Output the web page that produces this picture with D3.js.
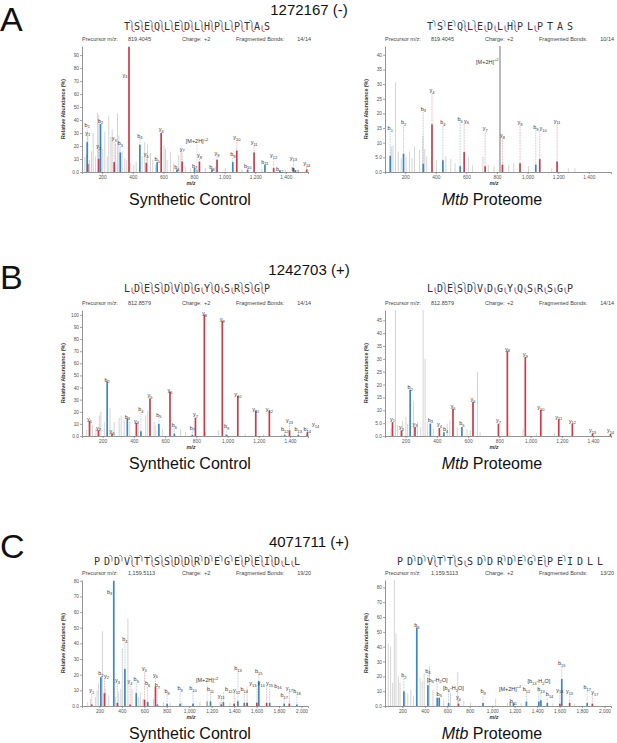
<!DOCTYPE html>
<html>
<head>
<meta charset="utf-8">
<script src="https://cdn.jsdelivr.net/npm/d3@7"></script>
<style>
  body { margin: 0; background: #fff; }
  svg { font-family: "Liberation Sans", Arial, sans-serif; }
</style>
</head>
<body>
<svg id="fig" width="617" height="743"></svg>
<script>
"use strict";

// ---- data ----
const titles = ["1272167 (-)", "1242703 (+)", "4071711 (+)"];
const rowLetters = ["A", "B", "C"];
const sequences = ["TSEQLEDLHPLPTAS", "LDESDVDGYQSRSGP", "PDDVTTSSDDRDEGEPEIDLL"];
const precursors = ["819.4045", "812.8579", "1,159.5113"];
const charges = ["+2", "+2", "+2"];
const fragBonds = ["14/14", "10/14", "14/14", "14/14", "19/20", "13/20"];

const xTicksAB = [200, 400, 600, 800, 1000, 1200, 1400];
const xTicksC = [200, 400, 600, 800, 1000, 1200, 1400, 1600, 1800, 2000];
const yTicksA1 = [0, 10, 20, 30, 40, 50, 60, 70, 80, 90];
const yTicksA2 = [0, 5, 10, 15, 20, 25, 30, 35, 40];
const yTicksB1 = [0, 10, 20, 30, 40, 50, 60, 70, 80, 90, 100];
const yTicksB2 = [0, 5, 10, 15, 20, 25, 30, 35, 40, 45];
const yTicksC = [0, 10, 20, 30, 40, 50, 60, 70, 80];

// fragment coverage per bond (1 = observed)
const bMarksA1 = [1,1,1,1,1,1,1,1,1,1,1,1,1,0];
const yMarksA1 = [1,1,1,1,1,1,1,1,1,1,1,1,1,1];
const bMarksA2 = [1,1,1,1,1,0,0,0,1,0,0,0,0,0];
const yMarksA2 = [0,0,0,1,1,1,1,1,1,0,1,0,0,0];
const bMarksB1 = [0,1,1,1,1,1,1,0,1,0,0,1,1,1];
const yMarksB1 = [1,1,1,1,1,1,1,1,1,1,1,1,1,1];
const bMarksB2 = [0,1,1,1,1,0,0,0,0,0,0,0,0,0];
const yMarksB2 = [1,1,1,1,1,1,1,1,1,1,1,1,1,1];
const bMarksC1 = [0,1,1,1,1,1,1,1,1,1,1,1,1,1,1,1,1,1,0,0];
const yMarksC1 = [0,0,0,1,0,1,1,1,1,1,0,0,0,0,1,1,1,1,1,1];
const bMarksC2 = [0,1,1,1,1,1,0,0,1,0,1,1,1,1,1,0,1,0,0,0];
const yMarksC2 = [0,0,0,1,0,1,1,0,0,0,0,0,0,0,1,0,0,0,0,0];

// annotated peaks: [m/z, relative abundance, label, label level]
const peaksA1 = [
  [102.06, 23, "b_1", 36.5], [106.05, 6, "y_1", 30.4], [177.09, 10, "y_2", 20],
  [189.09, 37, "b_2", 39.5], [278.14, 7.6, "y_3", 26], [318.13, 15, "b_3", 22.5],
  [375.19, 96.4, "y_4", 75], [446.19, 21, "b_4", 28], [488.27, 7, "y_5", 14],
  [559.27, 7.6, "b_5", 10], [585.32, 30, "y_6", 33], [688.32, 2, "b_6", 3.5],
  [722.38, 8, "y_7", 18], [803.34, 3, "b_7", 5], [819.40, 2, "[M+2H]^+2", 24],
  [835.47, 8, "y_8", 13], [916.43, 2, "b_8", 4], [950.50, 9.4, "y_9", 14.5],
  [1053.49, 7.6, "b_9", 14], [1079.54, 16.5, "y_10", 27], [1150.54, 2, "b_10", 5],
  [1192.62, 15, "y_11", 23], [1263.62, 5.5, "b_11", 8], [1320.68, 3, "y_12", 13],
  [1360.67, 1, "b_12", 2.5], [1449.72, 3, "y_13", 11], [1461.72, 1, "b_13", 2.5],
  [1536.76, 2, "y_14", 7]
];
const peaksA2 = [
  [102.06, 5.5, "b_1", 15], [189.09, 6.2, "b_2", 17], [318.13, 2.8, "b_3", 21.6],
  [375.19, 16.3, "y_4", 28], [446.19, 4, "b_4", 17], [559.27, 2, "b_5", 18],
  [585.32, 6.8, "y_6", 17.5], [722.38, 2, "y_7", 15], [819.40, 43, "[M+2H]^+2", 37.7],
  [835.47, 2.5, "y_8", 12.6], [950.50, 3, "y_9", 17], [1053.49, 2.5, "b_9", 15.4],
  [1079.54, 4.4, "y_10", 15], [1192.62, 3.6, "y_11", 17.5]
];
const peaksB1 = [
  [116.07, 12.4, "y_1", 14], [173.09, 4.7, "y_2", 7], [229.12, 45, "b_2", 46.5],
  [260.12, 2, "y_3", 4], [358.16, 14.4, "b_3", 16], [416.22, 10.8, "y_4", 12.6],
  [445.19, 4, "b_4", 22], [503.26, 31, "y_5", 33.5], [560.22, 10, "b_5", 17.7],
  [631.31, 36.5, "y_6", 37.8], [659.29, 2, "b_6", 9], [774.32, 1, "b_7", 7],
  [794.38, 15, "y_7", 18], [851.40, 100, "y_8", 101.5], [966.43, 95, "y_9", 96.5],
  [994.40, 1, "b_9", 8], [1065.50, 33, "y_10", 34.5], [1180.52, 21, "y_11", 22.5],
  [1267.56, 21, "y_12", 22.5], [1365.59, 1, "b_12", 5.5], [1396.60, 4.7, "y_13", 13],
  [1452.62, 1, "b_13", 5.5], [1509.64, 1, "b_14", 5.5], [1511.63, 3, "y_14", 9.7]
];
const peaksB2 = [
  [116.07, 5.4, "y_1", 6.8], [173.09, 2.2, "y_2", 3.6], [229.12, 18, "b_2", 19],
  [260.12, 3.5, "y_3", 4.8], [358.16, 4.8, "b_3", 6.4], [416.22, 3.1, "y_4", 4.5],
  [445.19, 1.5, "b_4", 2.6], [503.26, 10.6, "y_5", 11.6], [560.22, 3.5, "b_5", 4.9],
  [631.31, 13.2, "y_6", 14.2], [794.38, 4.8, "y_7", 6.2], [851.40, 33, "y_8", 34],
  [966.43, 30.7, "y_9", 31.7], [1065.50, 10.2, "y_10", 11.2], [1180.52, 6.5, "y_11", 7.5],
  [1267.56, 4.8, "y_12", 6], [1396.60, 1, "y_13", 2.4], [1511.63, 0.8, "y_14", 2.2]
];
const peaksC1 = [
  [132.10, 1, "y_1", 10.3], [213.09, 18.3, "b_2", 21], [245.19, 8.2, "y_2", 19.4],
  [328.11, 80, "b_3", 73], [360.21, 2, "y_3", 16.6], [427.18, 23.6, "b_4", 42.5],
  [473.30, 1, "y_4", 16], [528.23, 8.2, "b_5", 17.3], [602.34, 4, "y_5", 24],
  [629.28, 2.5, "b_6", 14.7], [699.39, 12.2, "y_6", 20], [716.31, 1, "b_7", 13.5],
  [803.34, 1.5, "b_8", 9.5], [918.37, 1.5, "b_9", 11.4], [1033.40, 1.5, "b_10", 11.4],
  [1159.51, 3, "[M+2H]^+2", 16.6], [1189.50, 3, "b_11", 11], [1285.63, 1, "y_11", 6.7],
  [1304.53, 2.5, "b_12", 11], [1400.66, 1.5, "y_12", 10.3], [1433.57, 3, "b_13", 24],
  [1490.59, 2, "b_14", 11], [1515.69, 2, "y_13", 14.5], [1602.72, 2, "y_14", 14.5],
  [1619.63, 16, "b_15", 22.5], [1689.75, 2, "y_15", 14.7], [1716.69, 2, "b_16", 13],
  [1845.73, 1.5, "b_17", 7], [1891.85, 1.5, "y_17", 11.6], [1958.81, 1, "b_18", 9.3]
];
const peaksC2 = [
  [213.09, 10, "b_2", 21], [328.11, 53, "b_3", 54.5], [427.18, 14, "b_4", 23.8],
  [510.22, 5.5, "[b_5-H_2O]", 17.8], [528.23, 5.5, "b_5", 8.4], [611.27, 2, "[b_6-H_2O]", 12.2],
  [699.39, 1.5, "y_6", 6.2], [918.37, 2, "b_9", 10], [1159.51, 3, "[M+2H]^+2", 11.6],
  [1189.50, 2, "b_11", 3.5], [1304.53, 3, "b_12", 11.6], [1415.56, 3, "[b_13-H_2O]", 17],
  [1433.57, 3.8, "b_13", 11.6], [1490.59, 2, "b_14", 7.8], [1602.72, 1.5, "y_14", 11],
  [1619.63, 18.2, "b_15", 29], [1689.75, 2, "y_15", 10], [1845.73, 2, "b_17", 12.7],
  [1891.85, 1.5, "y_17", 9.6]
];

// unannotated peaks: [m/z, relative abundance]
const noiseA1 = [[87,12],[97,14],[117,9],[130,16],[141,30],[157,12],[170,45.6],[178,44],[204,18],[217,31],[233,12],[243,43.6],[257,27],[265,33],[287,22],[300,45],[309,28],[330,16],[348,10.6],[361,9],[387,7],[406,5.6],[422,8],[461,12],[478,23],[496,21],[515,14.5],[530,9.4],[548,5.6],[604,20.8],[613,18],[624,9.4],[646,15.7],[667,6.8],[700,13],[715,17],[743,4.3],[776,3],[874,3],[939,4.3],[1004,3],[1113,2.3],[1243,2.3],[1396,1.8]];
const noiseA2 = [[109,8.7],[120,9],[137,30.6],[155,7],[174,4.7],[206,5.3],[228,7],[245,4.7],[261,8.7],[293,7.5],[315,12.3],[328,7.9],[341,5.3],[405,4.2],[466,5.3],[498,4.4],[526,3],[613,5],[639,2.5],[708,5.3],[743,2.5],[780,2],[877,2.5],[909,3],[1006,2],[1158,1.3],[1266,1.3],[1309,1.3]];
const noiseB1 = [[98,4.7],[136,8.8],[157,6],[179,17],[189,20],[211,11.6],[247,23],[274,11.6],[306,15],[319,17],[338,13],[374,11.6],[429,10],[476,17],[489,21],[529,11.6],[540,8.8],[582,6],[699,5.5],[731,3.3],[859,3.3],[943,4.7],[986,2],[1113,2],[1230,1.4],[1347,1.1]];
const noiseB2 = [[107,2.9],[135,49],[149,4.2],[181,6],[202,7.4],[213,4.8],[251,13.5],[276,5.4],[297,3.5],[312,49],[325,30],[339,5.4],[377,2.9],[466,4.8],[483,6],[530,3.5],[593,2.6],[614,2.2],[660,25],[677,1.6],[868,1.6],[952,2.9],[1037,1.3],[1153,1.3],[1269,0.9]];
const noiseC1 = [[96,2.5],[120,4.6],[164,5.7],[179,9.9],[191,14.5],[227,47.8],[253,11],[283,6.7],[342,5.7],[372,8.8],[392,11],[404,36.8],[454,56],[490,11],[549,5.7],[564,8.8],[588,4.6],[638,2.5],[682,4.6],[771,2.5],[830,2.1],[934,2.5],[1037,1.9],[1096,2.5],[1274,2.5],[1363,2.1],[1511,1.5],[1689,1.5]];
const noiseC2 = [[74,42],[95,40],[113,15.6],[128,85],[143,49],[164,20],[179,15.6],[224,8.9],[248,8.4],[275,11],[299,6.7],[358,19],[376,16.7],[394,22],[442,26.7],[472,11],[568,4.4],[628,8.9],[693,23],[747,3.3],[807,2.2],[1031,4.9],[1136,2.2],[1256,1.8],[1540,1.8],[1734,1.6]];

// ---- layout ----
const svg = d3.select("#fig");
const plotW = 226, plotH = 126;
const blue = "#3a87c4", red = "#cc3b47", grey = "#d4d4d4", precGrey = "#a2a2a2";
const colLeft = [82, 385];
const subX = [190, 492];
const rows = [
  { title: 15, letter: 31, seq: 26, head: 41, top: 46, xDomain: [68, 1545], xTicks: xTicksAB },
  { title: 275, letter: 289, seq: 288, head: 305, top: 310, xDomain: [68, 1515], xTicks: xTicksAB },
  { title: 547, letter: 558, seq: 561, head: 575, top: 580, xDomain: [45, 2058], xTicks: xTicksC }
];
const panels = [
  { row: 0, col: 0, yMax: 97, yTicks: yTicksA1, peaks: peaksA1, noise: noiseA1, bm: bMarksA1, ym: yMarksA1 },
  { row: 0, col: 1, yMax: 43, yTicks: yTicksA2, peaks: peaksA2, noise: noiseA2, bm: bMarksA2, ym: yMarksA2 },
  { row: 1, col: 0, yMax: 104, yTicks: yTicksB1, peaks: peaksB1, noise: noiseB1, bm: bMarksB1, ym: yMarksB1 },
  { row: 1, col: 1, yMax: 49, yTicks: yTicksB2, peaks: peaksB2, noise: noiseB2, bm: bMarksB2, ym: yMarksB2 },
  { row: 2, col: 0, yMax: 80.5, yTicks: yTicksC, peaks: peaksC1, noise: noiseC1, bm: bMarksC1, ym: yMarksC1 },
  { row: 2, col: 1, yMax: 85, yTicks: yTicksC, peaks: peaksC2, noise: noiseC2, bm: bMarksC2, ym: yMarksC2 }
];

// text with _sub and ^sup pieces
const richText = (text, str, size) => {
  let shift = 0;
  str.split(/([_^][0-9+]+)/).filter(Boolean).forEach((part) => {
    let target = 0, s = part, fs = size;
    if (part[0] === "_") { target = size * 0.32; s = part.slice(1); fs = size * 0.72; }
    else if (part[0] === "^") { target = -size * 0.42; s = part.slice(1); fs = size * 0.72; }
    text.append("tspan").attr("dy", target - shift).attr("font-size", fs).text(s);
    shift = target;
  });
};

const ionColor = (lab) => lab.startsWith("[M") ? precGrey : (lab.includes("b_") ? blue : red);
const tickFmt = (v) => v < 10 ? v.toFixed(1) : String(v);

// row titles and letters
rows.forEach((r, i) => {
  svg.append("text").attr("x", 309).attr("y", r.title).attr("text-anchor", "middle")
    .attr("font-size", 15).attr("fill", "#111").text(titles[i]);
  svg.append("text").attr("x", 0).attr("y", r.letter)
    .attr("font-size", 34).attr("fill", "#111").text(rowLetters[i]);
});

const drawSequence = (p, r, i) => {
  const seq = sequences[p.row];
  const n = seq.length, step = 10;
  const cx = colLeft[p.col] + 115;
  const g = svg.append("g").attr("transform", `translate(${cx},${r.seq})`);
  const pos = (k) => (k - (n - 1) / 2) * step;

  g.selectAll("text").data(seq.split("")).join("text")
    .attr("x", (d, k) => pos(k)).attr("y", 3.6)
    .attr("text-anchor", "middle")
    .attr("font-family", "DejaVu Sans Mono, monospace")
    .attr("font-size", 10).attr("fill", "#333")
    .text((d) => d);

  p.bm.forEach((f, k) => {
    if (!f) return;
    const bx = pos(k) + step / 2;
    g.append("path").attr("d", `M${bx},0.5 L${bx},-3.5 Q${bx},-5.6 ${bx - 2.6},-5.6`)
      .attr("fill", "none").attr("stroke", blue).attr("stroke-width", 0.9);
  });
  p.ym.forEach((f, k) => {
    if (!f) return;
    const bx = pos(k) + step / 2;
    g.append("path").attr("d", `M${bx},-0.5 L${bx},3.5 Q${bx},5.6 ${bx + 2.6},5.6`)
      .attr("fill", "none").attr("stroke", red).attr("stroke-width", 0.9);
  });

  // header line
  const hx = colLeft[p.col];
  const head = svg.append("g").attr("font-size", 5.5).attr("fill", "#444");
  head.append("text").attr("x", hx).attr("y", r.head).text("Precursor m/z:");
  head.append("text").attr("x", hx + 46).attr("y", r.head).text(precursors[p.row]);
  head.append("text").attr("x", hx + 100).attr("y", r.head).text("Charge:");
  head.append("text").attr("x", hx + 122).attr("y", r.head).text(charges[p.row]);
  head.append("text").attr("x", hx + 154).attr("y", r.head).text("Fragmented Bonds:");
  head.append("text").attr("x", hx + 229).attr("y", r.head).attr("text-anchor", "end").text(fragBonds[i]);
};

const drawPanel = (p, i) => {
  const r = rows[p.row];
  const g = svg.append("g").attr("transform", `translate(${colLeft[p.col]},${r.top})`);
  const x = d3.scaleLinear().domain(r.xDomain).range([0, plotW]);
  const y = d3.scaleLinear().domain([0, p.yMax]).range([plotH, 0]);

  g.append("g").selectAll("line").data(p.noise).join("line")
    .attr("x1", (d) => x(d[0])).attr("x2", (d) => x(d[0]))
    .attr("y1", y(0)).attr("y2", (d) => y(d[1]))
    .attr("stroke", grey).attr("stroke-width", 1);

  const leaders = g.append("g");
  const bars = g.append("g");
  bars.selectAll("line").data(p.peaks).join("line")
    .attr("x1", (d) => x(d[0])).attr("x2", (d) => x(d[0]))
    .attr("y1", y(0)).attr("y2", (d) => y(d[1]))
    .attr("stroke", (d) => ionColor(d[2]))
    .attr("stroke-width", (d) => d[2].startsWith("[M") ? 1.5 : 1.7);

  // labels, nudged right when they would collide with one already placed
  const labels = g.append("g").attr("fill", "#333");
  const placed = [];
  p.peaks.slice().sort((a, b) => a[0] - b[0]).forEach((d) => {
    const beside = d[3] < d[1];
    const px = x(d[0]);
    const ly = y(d[3]) + 2;
    const t = labels.append("text")
      .attr("x", beside ? px - 1.5 : px).attr("y", ly)
      .attr("text-anchor", beside ? "end" : "middle")
      .attr("font-size", 5.5);
    richText(t, d[2], 5.5);
    let bb = t.node().getBBox();
    let dx = 0;
    if (!beside) {
      placed.forEach((o) => {
        const vOverlap = bb.y < o.y + o.height - 0.6 && bb.y + bb.height - 0.6 > o.y;
        if (vOverlap && bb.x + dx < o.x + o.width && bb.x + dx + bb.width > o.x) {
          dx = o.x + o.width - bb.x + 0.4;
        }
      });
      if (dx) t.attr("x", px + dx);
    }
    bb = t.node().getBBox();
    placed.push(bb);
    if (d[3] > d[1] + 1.5) {
      leaders.append("line")
        .attr("x1", px).attr("x2", px)
        .attr("y1", y(d[1])).attr("y2", ly + 1.2)
        .attr("stroke", ionColor(d[2])).attr("stroke-opacity", 0.75)
        .attr("stroke-width", 0.6).attr("stroke-dasharray", "0.8,0.8");
    }
  });

  const yAxis = g.append("g")
    .call(d3.axisLeft(y).tickValues(p.yTicks).tickFormat(tickFmt).tickSize(2).tickSizeOuter(0));
  const xAxis = g.append("g").attr("transform", `translate(0,${plotH})`)
    .call(d3.axisBottom(x).tickValues(r.xTicks).tickFormat(d3.format(",")).tickSize(2).tickSizeOuter(2));
  [yAxis, xAxis].forEach((a) => {
    a.select(".domain").attr("stroke", "#666").attr("stroke-width", 0.7);
    a.selectAll(".tick line").attr("stroke", "#666").attr("stroke-width", 0.6);
    a.selectAll(".tick text").attr("font-size", 4.8).attr("fill", "#555")
      .attr("font-family", "Liberation Sans, Arial, sans-serif");
  });
  yAxis.selectAll(".tick text").attr("x", -3);
  xAxis.selectAll(".tick text").attr("y", 3.5);

  g.append("text").attr("transform", `translate(-17,${plotH / 2}) rotate(-90)`)
    .attr("text-anchor", "middle").attr("font-size", 5.3).attr("font-weight", "bold")
    .attr("fill", "#333").text("Relative Abundance (%)");
  g.append("text").attr("x", plotW / 2 - 4).attr("y", plotH + 13)
    .attr("text-anchor", "middle").attr("font-size", 5.5).attr("font-weight", "bold")
    .attr("font-style", "italic").attr("fill", "#333").text("m/z");

  const sub = svg.append("text").attr("x", subX[p.col]).attr("y", r.top + plotH + 33)
    .attr("text-anchor", "middle").attr("font-size", 16).attr("fill", "#111");
  if (p.col === 0) {
    sub.text("Synthetic Control");
  } else {
    sub.append("tspan").attr("font-style", "italic").text("Mtb");
    sub.append("tspan").text(" Proteome");
  }

  drawSequence(p, r, i);
};

panels.forEach(drawPanel);
</script>
</body>
</html>
